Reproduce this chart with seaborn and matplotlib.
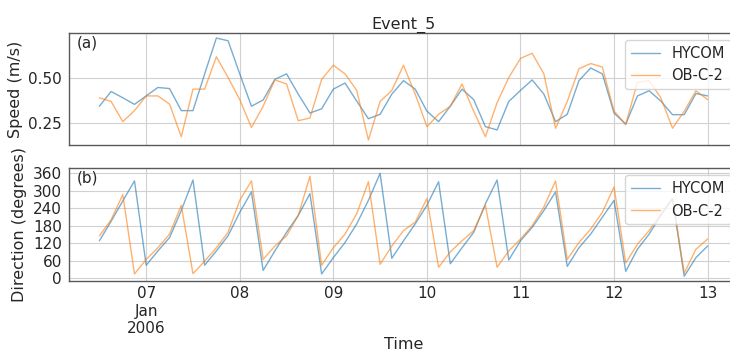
import matplotlib
matplotlib.use("Agg")
import matplotlib.pyplot as plt
import seaborn as sns
import pandas as pd

# 3-hourly samples, 6 Jan 2006 12:00 -> 13 Jan 2006 00:00
times = pd.date_range("2006-01-06 12:00", periods=53, freq="3h")

speed_hycom = [0.344, 0.424, 0.39, 0.354, 0.40, 0.446, 0.44, 0.32, 0.32, 0.52,
               0.715, 0.70, 0.52, 0.344, 0.378, 0.49, 0.52, 0.41, 0.307, 0.33,
               0.437, 0.47, 0.372, 0.276, 0.30, 0.41, 0.483, 0.437, 0.317, 0.26,
               0.344, 0.437, 0.38, 0.233, 0.215, 0.37, 0.43, 0.487, 0.41, 0.26,
               0.30, 0.483, 0.552, 0.52, 0.307, 0.246, 0.40, 0.428, 0.372, 0.298,
               0.298, 0.413, 0.40]
speed_obc2 = [0.39, 0.37, 0.26, 0.32, 0.40, 0.40, 0.355, 0.178, 0.437, 0.437,
              0.613, 0.50, 0.38, 0.228, 0.344, 0.487, 0.465, 0.265, 0.28, 0.49,
              0.567, 0.52, 0.43, 0.16, 0.37, 0.43, 0.567, 0.41, 0.233, 0.30,
              0.344, 0.465, 0.317, 0.178, 0.363, 0.50, 0.604, 0.632, 0.52, 0.224,
              0.37, 0.548, 0.576, 0.557, 0.317, 0.246, 0.474, 0.483, 0.39, 0.224,
              0.317, 0.428, 0.38]
dir_hycom = [128, 195, 265, 334, 44, 93, 139, 232, 337, 44,
             93, 145, 226, 296, 26, 93, 157, 215, 290, 14,
             70, 122, 186, 267, 360, 68, 128, 186, 250, 331,
             49, 104, 157, 255, 337, 62, 128, 174, 232, 296,
             40, 104, 151, 209, 267, 23, 99, 151, 215, 273,
             6, 70, 110]
dir_obc2 = [145, 200, 287, 14, 64, 104, 151, 250, 15, 58,
            104, 157, 267, 334, 64, 110, 145, 215, 350, 44,
            104, 151, 221, 331, 47, 110, 163, 192, 273, 37,
            90, 128, 163, 250, 37, 93, 134, 180, 244, 334,
            64, 122, 168, 226, 313, 52, 116, 163, 221, 273,
            17, 99, 134]

series_names = ["HYCOM", "OB-C-2"]
day_ticks = pd.date_range("2006-01-07", "2006-01-13", freq="D")
day_labels = ["07\nJan\n2006", "08", "09", "10", "11", "12", "13"]
speed_ticks = [0.25, 0.50]
dir_ticks = [0, 60, 120, 180, 240, 300, 360]

speed_df = pd.DataFrame({
    "time": list(times) * 2,
    "value": speed_hycom + speed_obc2,
    "source": [series_names[0]] * len(times) + [series_names[1]] * len(times),
})
dir_df = pd.DataFrame({
    "time": list(times) * 2,
    "value": dir_hycom + dir_obc2,
    "source": [series_names[0]] * len(times) + [series_names[1]] * len(times),
})

sns.set_style("whitegrid", {"axes.edgecolor": "0.35", "grid.color": "0.82"})
plt.rcParams["font.family"] = ["DejaVu Sans"]

fig = plt.figure(figsize=(7.3, 3.54), dpi=100)
ax1 = fig.add_axes([0.0945, 0.590, 0.9165, 0.317])
ax2 = fig.add_axes([0.0945, 0.205, 0.9165, 0.320], sharex=ax1)

palette = {series_names[0]: "#1f77b4", series_names[1]: "#ff7f0e"}

for ax, df, ticks, ylabel, tag in [
    (ax1, speed_df, speed_ticks, "Speed (m/s)", "(a)"),
    (ax2, dir_df, dir_ticks, "Direction (degrees)", "(b)"),
]:
    sns.lineplot(data=df, x="time", y="value", hue="source", palette=palette,
                 ax=ax, linewidth=1.0, alpha=0.6)
    ax.set_yticks(ticks)
    ax.set_ylabel(ylabel, fontsize=11.5)
    ax.tick_params(axis="y", labelsize=11, length=3, width=0.8, color="0.35", pad=2)
    ax.tick_params(axis="x", labelsize=11, length=0)
    for s in ax.spines.values():
        s.set_linewidth(1.0)
    ax.text(0.012, 0.975, tag, transform=ax.transAxes, ha="left", va="top",
            fontsize=11)
    leg = ax.legend(loc="upper right", fontsize=10.5, frameon=True)
    leg.get_frame().set_edgecolor("0.8")

ax1.set_title("Event_5", fontsize=11.5, pad=3)
ax1.set_xlabel("")
plt.setp(ax1.get_xticklabels(), visible=False)

ax2.set_xticks(day_ticks)
ax2.set_xticklabels(day_labels)
ax2.set_xlabel("Time", fontsize=11.5, labelpad=1)

fig.savefig("out.png", dpi=100)
